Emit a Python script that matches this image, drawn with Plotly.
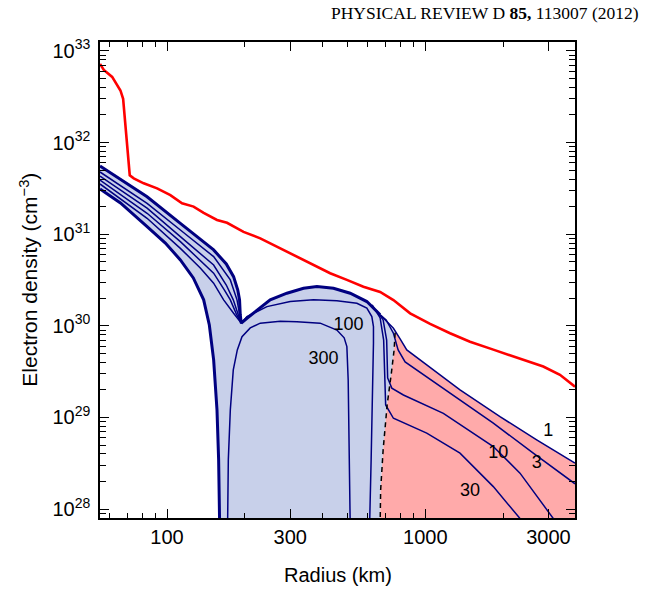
import math
import plotly.graph_objects as go

# ---------------- data (radius in km, electron density in cm^-3) ----------------
red_r = [55.0, 56.9, 61.3, 66.0, 67.6, 71.7, 74.3, 81.2, 91.5, 103, 114.3, 126.7, 138.6,
         156.1, 170.7, 197.8, 229.6, 274.4, 318.4, 369.1, 428.2, 497, 576, 668.6, 752.7,
         873.6, 1044, 1247, 1490, 1834, 2327, 2863, 3323, 3800]
red_ne = [7.2e32, 6.2e32, 5.2e32, 3.7e32, 3.0e32, 4.4e31, 4.07e31, 3.59e31, 3.16e31, 2.67e31,
          2.17e31, 2.0e31, 1.71e31, 1.43e31, 1.33e31, 1.06e31, 9.0e30, 7.0e30, 5.7e30, 4.6e30,
          3.75e30, 3.17e30, 2.67e30, 2.34e30, 1.91e30, 1.37e30, 1.05e30, 8.3e29, 6.7e29,
          5.5e29, 4.4e29, 3.6e29, 2.92e29, 2.17e29]

# thick upper envelope (bundle top, notch, hump)
env_r = [55.0, 83.7, 112.6, 151.5, 169.6, 181.0, 187.9, 190.9, 192.1, 193.8, 203.9, 223.0,
         250.9, 291.2, 337.7, 380.5, 441.1, 511.9, 593.9, 668.6]
env_ne = [5.55e31, 2.56e31, 1.31e31, 6.73e30, 4.73e30, 3.44e30, 2.46e30, 1.92e30, 1.32e30,
          1.07e30, 1.21e30, 1.49e30, 1.92e30, 2.27e30, 2.57e30, 2.68e30, 2.57e30, 2.27e30,
          1.84e30, 1.32e30]

# thick outer left boundary
outer_r = [55.0, 66.0, 83.7, 98.5, 112.6, 126.4, 138.6, 145.8, 151.5, 156.1, 158.4, 159.8]
outer_ne = [3.11e31, 2.19e31, 1.21e31, 8.0e30, 5.24e30, 3.33e30, 1.92e30, 1.02e30, 4.25e29,
            1.21e29, 3.45e28, 7.0e27]

# thin bundle lines converging into the notch
ba_r = [55.0, 83.7, 112.6, 151.5, 175.8, 186.6, 192.1, 193.8]
ba_ne = [4.77e31, 2.17e31, 1.11e31, 5.69e30, 3.17e30, 1.92e30, 1.22e30, 1.07e30]
bb_r = [55.0, 83.7, 112.6, 151.5, 169.6, 180.5, 188.7, 193.8]
bb_ne = [4.31e31, 1.92e31, 9.4e30, 4.61e30, 2.79e30, 1.92e30, 1.32e30, 1.07e30]
bc_r = [55.0, 83.7, 112.6, 151.5, 166.6, 175.8, 185.4, 193.8]
bc_ne = [3.90e31, 1.69e31, 8.3e30, 3.75e30, 2.47e30, 1.92e30, 1.35e30, 1.07e30]
bd_r = [55.0, 83.7, 112.6, 134.5, 151.5, 165.6, 181.0, 193.8]
bd_ne = [3.53e31, 1.49e31, 7.0e30, 4.28e30, 2.92e30, 1.92e30, 1.37e30, 1.07e30]

# contour 100
c100_r = [193.8, 203.9, 243.7, 299.9, 369.1, 454.6, 543.3, 593.9, 620.9, 630.0, 630.0,
          625.4, 617.1, 608.9]
c100_ne = [1.07e30, 1.26e30, 1.62e30, 1.84e30, 1.92e30, 1.88e30, 1.76e30, 1.56e30, 1.26e30,
           9.8e29, 6.45e29, 1.56e29, 3.45e28, 7.0e27]

# contour 300 (dome)
c300_r = [171.6, 172.7, 175.8, 180.5, 187.1, 195.1, 210.0, 229.6, 274.4, 318.4, 391.8,
          454.6, 485.2, 497.0, 502.9, 505.1, 511.9]
c300_ne = [7.0e27, 3.45e28, 1.21e29, 3.30e29, 5.46e29, 7.6e29, 9.5e29, 1.07e30, 1.12e30,
           1.11e30, 1.07e30, 9.0e29, 7.4e29, 5.93e29, 2.57e29, 5.70e28, 7.0e27]

# contours 1, 3, 10, 30 beyond the hump
c1_r = [668.6, 711.7, 752.7, 798.9, 847.9, 1013, 1363, 1947, 2700, 3800]
c1_ne = [1.32e30, 1.10e30, 9.4e29, 7.2e29, 5.46e29, 3.75e29, 2.00e29, 1.02e29, 5.70e28, 3.18e28]
c3_r = [668.6, 705.5, 752.7, 784.9, 835.4, 927.3, 1284, 1834, 2619, 3800]
c3_ne = [1.32e30, 1.16e30, 8.3e29, 5.46e29, 4.04e29, 3.30e29, 1.76e29, 8.67e28, 4.08e28, 1.89e28]
c10_r = [645.3, 686.8, 708.6, 711.7, 715.0, 742.0, 822.8, 1175, 1834, 2327, 3131]
c10_ne = [1.49e30, 1.16e30, 7.0e29, 4.25e29, 2.70e29, 2.09e29, 1.76e29, 1.11e29, 4.82e28,
          2.47e28, 7.9e27]
c30_r = [622.7, 668.6, 689.9, 696.1, 702.3, 752.7, 1013, 1363, 1834, 2327]
c30_ne = [1.69e30, 1.22e30, 7.0e29, 2.57e29, 1.37e29, 9.8e28, 6.74e28, 4.08e28, 1.76e28, 7.9e27]

# dashed boundary between the two shaded regions
dash_r = [764.2, 757.4, 737.6, 711.7, 686.8, 671.7, 668.6]
dash_ne = [8.4e29, 5.46e29, 2.92e29, 1.37e29, 4.44e28, 1.62e28, 7.0e27]

labels = ["1", "3", "10", "30", "100", "300"]
label_r = [2994, 2700, 1918, 1490, 504, 403.5]
label_ne = [7.0e28, 3.18e28, 4.08e28, 1.56e28, 1.02e30, 4.25e29]

x_ticks = [100, 300, 1000, 3000]
x_minor = [60, 70, 80, 90, 200, 400, 500, 600, 700, 800, 900, 2000]
y_ticks = [1e28, 1e29, 1e30, 1e31, 1e32, 1e33]
y_ticktext = ["10<sup>%d</sup>" % e for e in range(28, 34)]
y_minor = [m * 10.0 ** e for e in range(27, 33) for m in range(2, 10)]

R_MIN, R_MAX = 55.0, 3800.0
NE_MIN, NE_MAX = 8.0e27, 1.25e33

NAVY = "rgb(0,0,128)"
BLUE_FILL = "rgb(200,208,234)"
PINK_FILL = "rgb(255,170,170)"

fig = go.Figure()

# blue shaded region
blue_x = outer_r + [dash_r[-1]] + dash_r[::-1] + [c1_r[1]] + env_r[::-1]
blue_y = outer_ne + [dash_ne[-1]] + dash_ne[::-1] + [c1_ne[1]] + env_ne[::-1]
fig.add_trace(go.Scatter(x=blue_x, y=blue_y, mode="lines", fill="toself",
                         fillcolor=BLUE_FILL, line=dict(width=0), hoverinfo="skip"))

# pink shaded region
pink_x = dash_r + [R_MAX] + c1_r[::-1][:-2]
pink_y = dash_ne + [dash_ne[-1]] + c1_ne[::-1][:-2]
fig.add_trace(go.Scatter(x=pink_x, y=pink_y, mode="lines", fill="toself",
                         fillcolor=PINK_FILL, line=dict(width=0), hoverinfo="skip"))

thin = [(ba_r, ba_ne), (bb_r, bb_ne), (bc_r, bc_ne), (bd_r, bd_ne), (c100_r, c100_ne),
        (c300_r, c300_ne), (c1_r, c1_ne), (c3_r, c3_ne), (c10_r, c10_ne), (c30_r, c30_ne)]
for xs, ys in thin:
    fig.add_trace(go.Scatter(x=xs, y=ys, mode="lines",
                             line=dict(color=NAVY, width=1.5), hoverinfo="skip"))
for xs, ys in [(env_r, env_ne), (outer_r, outer_ne)]:
    fig.add_trace(go.Scatter(x=xs, y=ys, mode="lines",
                             line=dict(color=NAVY, width=3), hoverinfo="skip"))

fig.add_trace(go.Scatter(x=dash_r, y=dash_ne, mode="lines",
                         line=dict(color="black", width=1.5, dash="5px,4px"), hoverinfo="skip"))
fig.add_trace(go.Scatter(x=red_r, y=red_ne, mode="lines",
                         line=dict(color="rgb(255,0,0)", width=2.6), hoverinfo="skip"))

fig.add_trace(go.Scatter(x=label_r, y=label_ne, mode="text", text=labels,
                         textfont=dict(family="Liberation Sans", size=18, color="black"),
                         hoverinfo="skip"))

axis_common = dict(type="log", showgrid=False, zeroline=False, showline=True,
                   linecolor="black", linewidth=1.5, mirror="allticks",
                   ticks="inside", ticklen=9, tickwidth=1.3, tickcolor="black",
                   tickfont=dict(family="Liberation Sans", size=20, color="black"))

fig.update_layout(
    width=645, height=590,
    margin=dict(l=99.5, r=69.5, t=42, b=72),
    paper_bgcolor="white", plot_bgcolor="white",
    showlegend=False,
    xaxis=dict(axis_common, range=[math.log10(R_MIN), math.log10(R_MAX)],
               tickvals=x_ticks, ticktext=[str(v) for v in x_ticks],
               ticklabelstandoff=0,
               minor=dict(tickvals=x_minor, ticks="inside", ticklen=5, tickwidth=1.2,
                          tickcolor="black", showgrid=False)),
    yaxis=dict(axis_common, range=[math.log10(NE_MIN), math.log10(NE_MAX)],
               tickvals=y_ticks, ticktext=y_ticktext,
               ticklabelstandoff=4,
               minor=dict(tickvals=y_minor, ticks="inside", ticklen=6, tickwidth=1.2,
                          tickcolor="black", showgrid=False)),
    annotations=[
        dict(text="Radius (km)", xref="paper", yref="paper", x=0.5, y=-0.12,
             xanchor="center", yanchor="middle", showarrow=False,
             font=dict(family="Liberation Sans", size=20, color="black")),
        dict(text="Electron density (cm<sup>\u22123</sup>)", xref="paper", yref="paper",
             x=(28 - 99.5) / 476, y=0.5, textangle=-90,
             xanchor="center", yanchor="middle", showarrow=False,
             font=dict(family="Liberation Sans", size=21, color="black")),
        dict(text="PHYSICAL REVIEW D <b>85,</b> 113007 (2012)", xref="paper", yref="paper",
             x=(642 - 99.5) / 476, y=(518 - 13) / 476, xanchor="right", yanchor="middle",
             showarrow=False,
             font=dict(family="Liberation Serif", size=17.5, color="black")),
    ],
)

# remove the default 8 px body margin so the figure fills the window exactly
fig.write_html("out.html", config={"displayModeBar": False},
               post_script="document.body.style.margin='0px';")
